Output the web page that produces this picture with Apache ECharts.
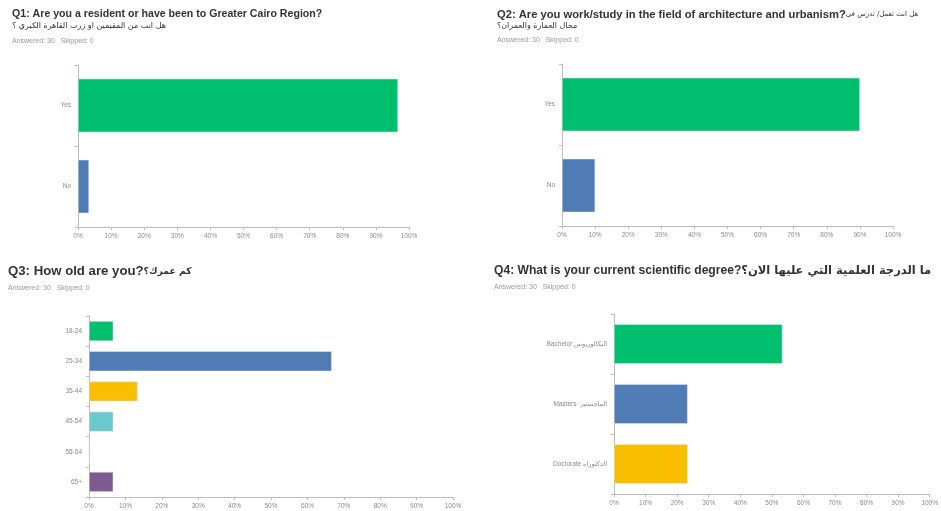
<!DOCTYPE html>
<html>
<head>
<meta charset="utf-8">
<script src="https://cdn.jsdelivr.net/npm/echarts@6/dist/echarts.min.js"></script>
<style>
  html, body { margin: 0; padding: 0; background: #fff; }
  #main { width: 941px; height: 511px; }
</style>
</head>
<body>
<div id="main"></div>
<script>
// survey answers, percent of 30 respondents
var q1Cats = ['Yes', 'No'];
var q1Vals = [96.67, 3.33];
var q1Colors = ['#00bf6f', '#507cb6'];

var q2Cats = ['Yes', 'No'];
var q2Vals = [90, 10];
var q2Colors = ['#00bf6f', '#507cb6'];

var q3Cats = ['18-24', '25-34', '35-44', '45-54', '55-64', '65+'];
var q3Vals = [6.67, 66.67, 13.33, 6.67, 0, 6.67];
var q3Colors = ['#00bf6f', '#507cb6', '#f9be00', '#6bc8cd', '#ff8b4f', '#7d5b8f'];

var q4Cats = ['Bachelor البكالوريوس', 'Masters  الماجستير', 'Doctorate الدكتوراه'];
var q4Vals = [53.33, 23.33, 23.33];
var q4Colors = ['#00bf6f', '#507cb6', '#f9be00'];

var font = 'Liberation Sans, Arial, DejaVu Sans, sans-serif';
var axisGray = '#bdbdbd';
var labelGray = '#8a8a8a';

// grid boxes
var grids = [
  { left: 78, top: 65, width: 331, height: 162 },
  { left: 562, top: 64, width: 331, height: 162 },
  { left: 89, top: 316, width: 364, height: 181 },
  { left: 614, top: 314, width: 322, height: 180 }
];

function xAxis(i) {
  return {
    gridIndex: i,
    type: 'value',
    min: 0,
    max: 100,
    interval: 10,
    axisLine: { show: true, lineStyle: { color: axisGray } },
    axisTick: { show: true, length: 3, lineStyle: { color: axisGray } },
    splitLine: { show: false },
    axisLabel: {
      formatter: '{value}%',
      color: labelGray,
      fontSize: 6.5,
      fontFamily: font,
      margin: 6
    }
  };
}

function yAxis(i, cats) {
  return {
    gridIndex: i,
    type: 'category',
    data: cats,
    inverse: true,
    axisLine: { show: true, lineStyle: { color: axisGray } },
    axisTick: { show: true, length: 3, lineStyle: { color: axisGray } },
    axisLabel: {
      color: labelGray,
      fontSize: 6.5,
      fontFamily: font,
      margin: 7
    }
  };
}

function series(i, vals, colors, gap) {
  var data = [];
  for (var k = 0; k < vals.length; k++) {
    data.push({ value: vals[k], itemStyle: { color: colors[k] } });
  }
  return {
    type: 'bar',
    xAxisIndex: i,
    yAxisIndex: i,
    barCategoryGap: gap,
    data: data,
    itemStyle: { borderColor: '#e8e8e8', borderWidth: 0.5 }
  };
}

// title with an english part and an arabic part
function title(en, ar, left, top, enSize, arSize, arWeight) {
  var txt = '';
  if (en) txt += '{en|' + en + '}';
  if (ar) txt += '{ar|' + ar + '}';
  return {
    text: txt,
    left: left,
    top: top,
    padding: 0,
    textStyle: {
      rich: {
        en: { fontSize: enSize, fontWeight: 'bold', color: '#333', fontFamily: font },
        ar: { fontSize: arSize, fontWeight: arWeight || 'normal', color: '#333', fontFamily: 'DejaVu Sans, sans-serif' }
      }
    }
  };
}

function answered(left, top) {
  return {
    text: 'Answered: 30   Skipped: 0',
    left: left,
    top: top,
    padding: 0,
    textStyle: { fontSize: 7, fontWeight: 'normal', color: '#999', fontFamily: font }
  };
}

var chart = echarts.init(document.getElementById('main'));

var option = {
  backgroundColor: '#fff',
  animation: false,
  title: [
    title('Q1: Are you a resident or have been to Greater Cairo Region?', '', 12, 9, 10.6, 8),
    title('', 'هل انت من المقيمين او زرت القاهرة الكبري ؟', 12, 22, 11, 8),
    answered(12, 38),
    title('Q2: Are you work/study in the field of architecture and urbanism?', 'هل انت تعمل/ تدرس فى', 497, 9, 11.2, 7),
    title('', 'مجال العمارة والعمران؟', 497, 22, 11, 8),
    answered(497, 37),
    title('Q3: How old are you?', 'كم عمرك؟', 8, 265, 13.2, 9.3, 'bold'),
    answered(8, 285),
    title('Q4: What is your current scientific degree?', 'ما الدرجة العلمية التي عليها الان؟', 494, 265, 12.1, 11.5, 'bold'),
    answered(494, 284)
  ],
  grid: grids,
  xAxis: [xAxis(0), xAxis(1), xAxis(2), xAxis(3)],
  yAxis: [yAxis(0, q1Cats), yAxis(1, q2Cats), yAxis(2, q3Cats), yAxis(3, q4Cats)],
  series: [
    series(0, q1Vals, q1Colors, '34%'),
    series(1, q2Vals, q2Colors, '34%'),
    series(2, q3Vals, q3Colors, '34%'),
    series(3, q4Vals, q4Colors, '34%')
  ]
};

chart.setOption(option);
</script>
</body>
</html>
